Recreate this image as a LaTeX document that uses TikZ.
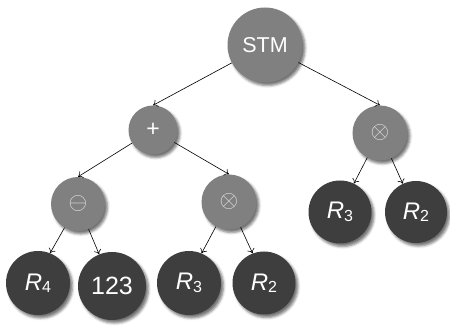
\documentclass[tikz,border=0pt]{standalone}
\usepackage{graphicx}
\usepackage{fontspec}
\setmainfont{Liberation Sans}
\usetikzlibrary{shadows.blur,arrows.meta}
\definecolor{opgray}{HTML}{808080}
\definecolor{leafgray}{HTML}{3E3E3E}
\definecolor{symgray}{HTML}{E0E0E0}
\newcommand{\leafR}[1]{{\fontsize{24}{24}\selectfont\itshape R}\raisebox{-2.5pt}{\fontsize{16}{16}\selectfont #1}}
\newcommand{\opsym}[1]{{\color{symgray}\scalebox{2.4}{$#1$}}}
\tikzset{
  treenode/.style={circle, inner sep=0pt, text=white,
    blur shadow={shadow xshift=2.5pt, shadow yshift=-3pt, shadow blur radius=2.5pt, shadow opacity=55}},
  opnode/.style={treenode, fill=opgray},
  leafnode/.style={treenode, fill=leafgray},
  edge/.style={draw=black, line width=0.6pt, -{To[length=4.5pt,width=7.5pt]}}
}
\begin{document}
\begin{tikzpicture}[x=1pt,y=-1pt]
\useasboundingbox (0,0) rectangle (450,328);
\node[opnode, minimum size=75pt, font=\fontsize{21.5}{22}\selectfont] (stm) at (265,45) {STM};
\node[opnode, minimum size=49pt, font=\fontsize{23}{23}\selectfont] (plus) at (153,130) {+};
\node[opnode, minimum size=55pt] (opR) at (380,133) {\opsym{\otimes}};
\node[opnode, minimum size=55pt] (opM) at (229,202) {\opsym{\otimes}};
\node[opnode, minimum size=54pt] (omin) at (78,204) {\opsym{\ominus}};
\node[leafnode, minimum size=64pt] (R4) at (38,283) {\leafR{4}};
\node[leafnode, minimum size=68pt, font=\fontsize{25}{25}\selectfont] (n123) at (112,286) {123};
\node[leafnode, minimum size=64pt] (R3b) at (189,283) {\leafR{3}};
\node[leafnode, minimum size=63pt] (R2b) at (264,283) {\leafR{2}};
\node[leafnode, minimum size=63pt] (R3r) at (340,212) {\leafR{3}};
\node[leafnode, minimum size=62pt] (R2r) at (416,212) {\leafR{2}};
\draw[edge] (stm) -- (plus.north);
\draw[edge] (stm) -- (opR.north);
\draw[edge] (plus) -- (omin.north);
\draw[edge] (plus) -- (opM.north);
\draw[edge] (omin) -- (R4.68);
\draw[edge] (omin) -- (n123.112);
\draw[edge] (opM) -- (R3b.67);
\draw[edge] (opM) -- (R2b.111);
\draw[edge] (opR) -- (R3r.64);
\draw[edge] (opR) -- (R2r.115);
\end{tikzpicture}
\end{document}
